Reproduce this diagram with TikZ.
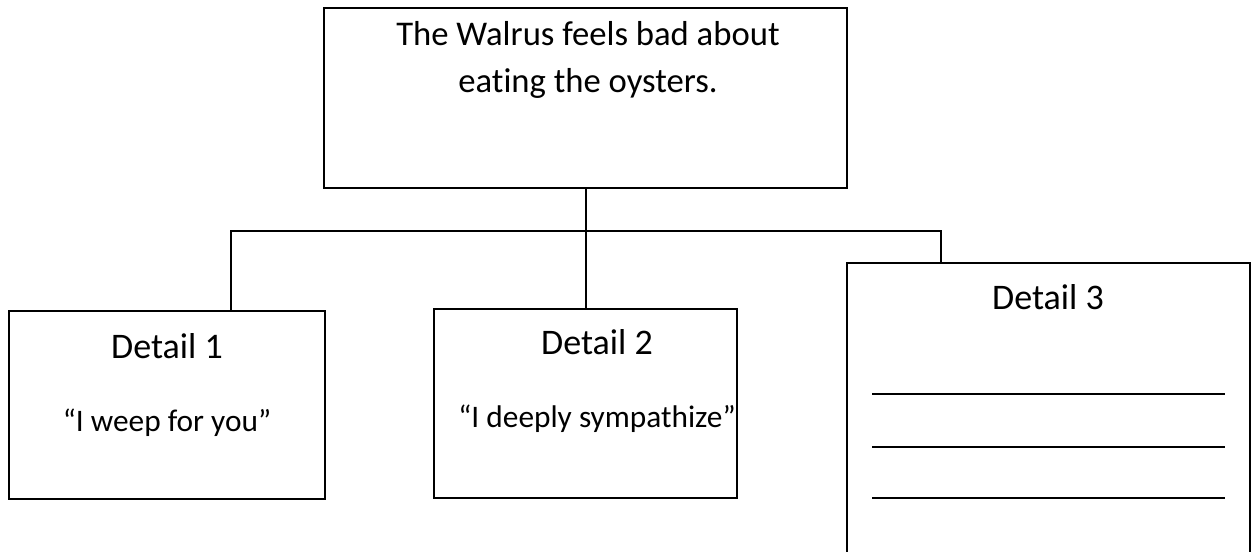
\documentclass[tikz,border=0pt]{standalone}
\usepackage{fontspec}
\setmainfont{Carlito}[RawFeature=-liga]
\tikzset{
  box/.style={draw, line width=1.5pt, inner sep=0pt, anchor=center},
  maintext/.style={anchor=base, inner sep=0pt, font=\fontsize{26}{35}\selectfont},
  headtext/.style={anchor=base, inner sep=0pt, font=\fontsize{27}{33}\selectfont},
  quotetext/.style={anchor=base, inner sep=0pt, font=\fontsize{23.5}{30}\selectfont},
  link/.style={line width=1.5pt}
}
\begin{document}
\begin{tikzpicture}[x=0.75pt,y=0.75pt,yscale=-1,xscale=1]
    \useasboundingbox (0,0) rectangle (1254,552);

    % Main Box
    \node [box, minimum width=392.25pt, minimum height=135pt] (main) at (585.5,98) {};
    \node [maintext] (mainA) at (588,45.5) {The Walrus feels bad about};
    \node [maintext] (mainB) at (588,93) {eating the oysters.};

    % Detail 1
    \node [box, minimum width=237pt, minimum height=140.25pt] (d1) at (167,405) {};
    \node [headtext] (d1head) at (167,359) {Detail 1};
    \node [quotetext] (d1quote) at (167,431.5) {“I weep for you”};

    % Detail 2
    \node [box, minimum width=227.25pt, minimum height=141.75pt] (d2) at (585.5,403.5) {};
    \node [headtext] (d2head) at (597,355) {Detail 2};
    \node [quotetext] (d2quote) at (597,428) {“I deeply sympathize”};

    % Detail 3
    \node [box, minimum width=302.25pt, minimum height=230.25pt] (d3) at (1048.5,416.5) {};
    \node [headtext] (d3head) at (1048,309.5) {Detail 3};
    % blank lines
    \foreach \y in {394,447,498}
      \draw [line width=2.2pt] (872,\y) -- (1225,\y);

    % Connection
    \coordinate (barL) at (231,231);
    \coordinate (barR) at (941,231);
    \draw [link] (main.south) -- (main.south |- d2.north);
    \draw [link] (barL |- d1.north) -- (barL) -- (barR) -- (barR |- d3.north);

\end{tikzpicture}
\end{document}
